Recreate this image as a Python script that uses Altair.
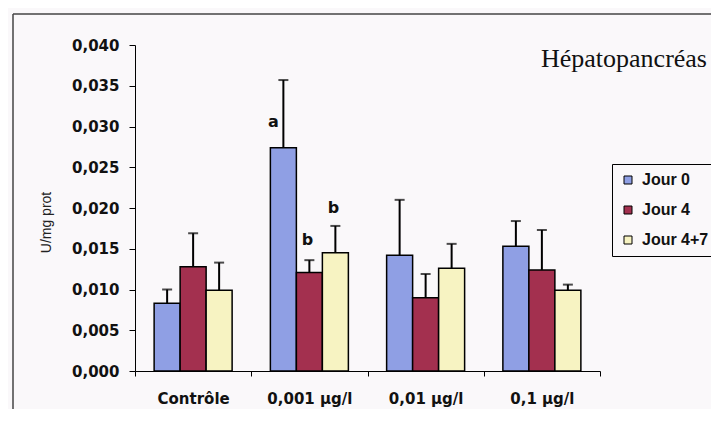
import altair as alt
import pandas as pd

categories = ["Contrôle", "0,001 µg/l", "0,01 µg/l", "0,1 µg/l"]
series = ["Jour 0", "Jour 4", "Jour 4+7"]
colors = ["#8f9fe4", "#a3304f", "#f7f3c2"]

jour0 = [0.0083, 0.0274, 0.0142, 0.0153]
jour0_err = [0.0017, 0.0083, 0.0068, 0.0031]
jour4 = [0.0128, 0.0121, 0.0090, 0.0124]
jour4_err = [0.0041, 0.0015, 0.0029, 0.0049]
jour47 = [0.0099, 0.0145, 0.0126, 0.0099]
jour47_err = [0.0034, 0.0033, 0.0030, 0.0007]

y_ticks = [0.0, 0.005, 0.010, 0.015, 0.020, 0.025, 0.030, 0.035, 0.040]

letters = ["a", "b", "b"]
letter_cat = ["0,001 µg/l", "0,001 µg/l", "0,001 µg/l"]
letter_series = ["Jour 0", "Jour 4", "Jour 4+7"]
letter_y = [0.0305, 0.0161, 0.0200]

rows = []
for s, vals, errs in zip(series, [jour0, jour4, jour47], [jour0_err, jour4_err, jour47_err]):
    for c, v, e in zip(categories, vals, errs):
        rows.append({"cat": c, "series": s, "value": v, "top": v + e})
df = pd.DataFrame(rows)

ldf = pd.DataFrame({"cat": letter_cat, "series": letter_series, "ly": letter_y, "txt": letters})
one = pd.DataFrame({"k": [0]})

FONT = "DejaVu Sans"
SANS = "Liberation Sans"

xaxis = alt.Axis(title=None, labelAngle=0, tickBand="extent", tickSize=5, tickColor="black",
                 domainColor="black", labelFont=FONT, labelFontSize=15, labelFontWeight="bold",
                 labelColor="#111", labelPadding=15)
xenc = alt.X("cat:N", sort=categories, scale=alt.Scale(paddingInner=0, paddingOuter=0), axis=xaxis)
xoff = alt.XOffset("series:N", sort=series, scale=alt.Scale(paddingInner=0, paddingOuter=0.7356))

yaxis = alt.Axis(title="U/mg prot", values=y_ticks, grid=False, tickSize=6, tickColor="black",
                 domainColor="black", labelFont=FONT, labelFontSize=15, labelFontWeight="bold",
                 labelColor="#111", labelPadding=10,
                 labelExpr="replace(format(datum.value, '.3f'), '.', ',')",
                 titleFont=SANS, titleFontSize=14, titleFontWeight="normal", titleColor="#222",
                 titleX=-89, titleY=177, titleAngle=270, titleAlign="center", titleBaseline="middle")
yscale = alt.Scale(domain=[0, 0.04], nice=False)

bars = alt.Chart(df).mark_bar(stroke="black", strokeWidth=1.5).encode(
    x=xenc, xOffset=xoff,
    y=alt.Y("value:Q", scale=yscale, axis=yaxis),
    color=alt.Color("series:N", sort=series, scale=alt.Scale(domain=series, range=colors),
                    legend=alt.Legend(title=None, orient="none", legendX=477, legendY=119,
                                      symbolType="square", symbolSize=64, symbolStrokeColor="black",
                                      symbolStrokeWidth=1, labelFont=SANS, labelFontSize=16,
                                      labelFontWeight="bold", labelColor="#111", rowPadding=14,
                                      padding=8, strokeColor="black", labelOffset=6)),
)

err = alt.Chart(df).mark_rule(color="black", strokeWidth=2).encode(
    x=xenc, xOffset=xoff,
    y=alt.Y("value:Q", scale=yscale, axis=yaxis), y2="top:Q",
)

caps = alt.Chart(df).mark_tick(color="black", thickness=2, size=10).encode(
    x=xenc, xOffset=xoff,
    y=alt.Y("top:Q", scale=yscale, axis=yaxis),
)

ldf_a = ldf[ldf["txt"] == "a"]
ldf_b = ldf[ldf["txt"] == "b"]
lab_a = alt.Chart(ldf_a).mark_text(font=FONT, fontSize=16, fontWeight="bold", color="#111",
                                   baseline="middle", dx=-10).encode(
    x=xenc, xOffset=xoff, y=alt.Y("ly:Q", scale=yscale, axis=yaxis), text="txt:N")
lab_b = alt.Chart(ldf_b).mark_text(font=FONT, fontSize=16, fontWeight="bold", color="#111",
                                   baseline="middle", dx=-2).encode(
    x=xenc, xOffset=xoff, y=alt.Y("ly:Q", scale=yscale, axis=yaxis), text="txt:N")

title = alt.Chart(one).mark_text(font="Liberation Serif", fontSize=26, color="#111",
                                 align="right", baseline="alphabetic").encode(
    x=alt.value(572), y=alt.value(22), text=alt.value("Hépatopancréas"))

frame_left = alt.Chart(one).mark_rule(color="#444", strokeWidth=1.5).encode(
    x=alt.value(-122), y=alt.value(-31), y2=alt.value(400))
frame_top = alt.Chart(one).mark_rule(color="#444", strokeWidth=1.5).encode(
    x=alt.value(-122), x2=alt.value(600), y=alt.value(-31))

chart = alt.layer(frame_left, frame_top, bars, err, caps, lab_a, lab_b, title).properties(
    width=465, height=326,
    autosize=alt.AutoSizeParams(type="none"),
    padding={"left": 127, "top": 37, "right": 111, "bottom": 38},
    background="#faf8fa",
).configure_view(stroke=None)

chart.save("out.html", embed_options={"renderer": "svg", "actions": False})
